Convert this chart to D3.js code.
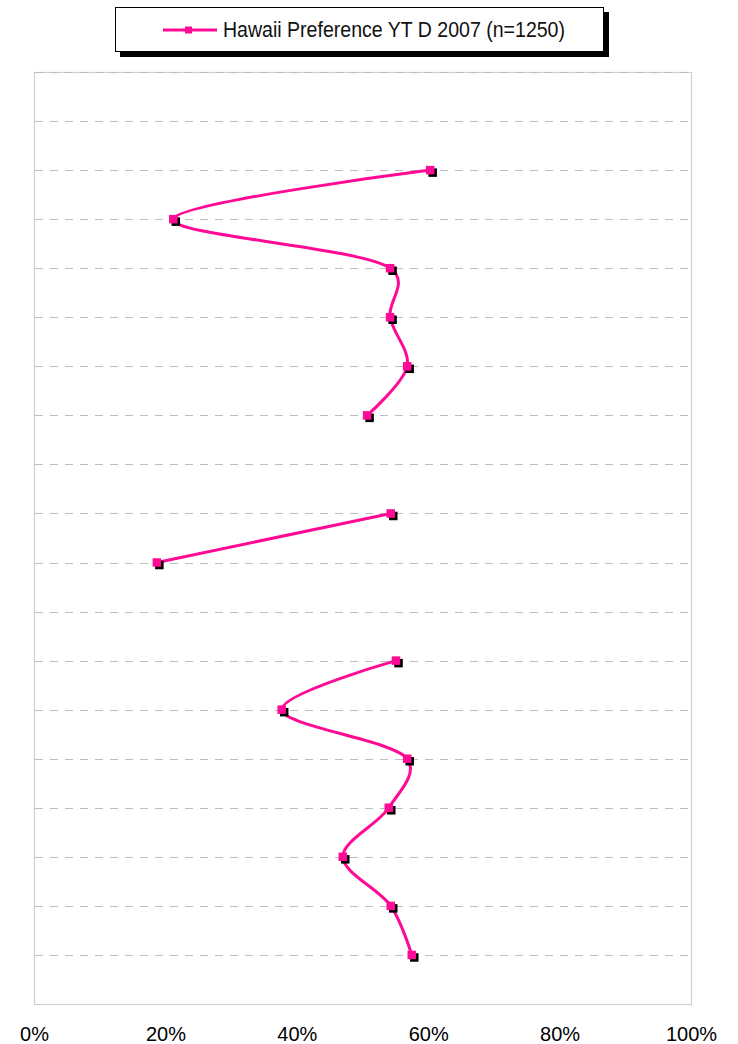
<!DOCTYPE html>
<html>
<head>
<meta charset="utf-8">
<script src="https://cdn.jsdelivr.net/npm/d3@7"></script>
<style>
  html, body { margin: 0; padding: 0; background: #fff; }
  svg { display: block; font-family: Arial, "Liberation Sans", sans-serif; }
</style>
</head>
<body>
<svg id="chart" width="738" height="1044"></svg>
<script>
// Row positions down the chart (1 = top row); rows 1, 8 and 11 hold no value
const rows = [1, 2, 3, 4, 5, 6, 7, 8, 9, 10, 11, 12, 13, 14, 15, 16, 17, 18];
const preference = [null, 60.3, 21.2, 54.2, 54.2, 56.8, 50.7, null, 54.3, 18.7, null, 55.1, 37.7, 56.8, 54.0, 47.0, 54.3, 57.5];
const xTicks = [0, 20, 40, 60, 80, 100];
const seriesName = "Hawaii Preference YT D 2007 (n=1250)";

const pink = "#ff0a94";
const svg = d3.select("#chart");

const plot = { left: 34, right: 691, top: 72, bottom: 1004 };

const x = d3.scaleLinear().domain([0, 100]).range([plot.left, plot.right]);
const y = d3.scaleLinear().domain([0, 19]).range([plot.top, plot.bottom]);

// Plot frame
svg.append("rect")
  .attr("x", plot.left + 0.5).attr("y", plot.top + 0.5)
  .attr("width", plot.right - plot.left).attr("height", plot.bottom - plot.top)
  .attr("fill", "#fff").attr("stroke", "#cfcfcf").attr("stroke-width", 1.2);

// Dashed horizontal gridlines
svg.append("g")
  .selectAll("line")
  .data(d3.range(0, 19))
  .join("line")
  .attr("x1", plot.left + 1).attr("x2", plot.right)
  .attr("y1", d => Math.round(y(d)) + 0.5).attr("y2", d => Math.round(y(d)) + 0.5)
  .attr("stroke", "#bdbdbd").attr("stroke-width", 1.2)
  .attr("stroke-dasharray", "8,7");

// Bottom percentage axis labels
const xAxis = d3.axisBottom(x).tickValues(xTicks).tickFormat(d => d + "%").tickSize(0).tickPadding(0);
const gx = svg.append("g").attr("transform", `translate(0, ${plot.bottom + 23})`).call(xAxis);
gx.select(".domain").remove();
gx.selectAll("text")
  .attr("font-size", 20).attr("fill", "#000")
  .attr("font-family", "Arial, 'Liberation Sans', sans-serif");

// Smoothed series line with breaks at empty rows
const pts = rows.map((r, i) => ({ row: r, v: preference[i] }));
const line = d3.line()
  .defined(d => d.v !== null)
  .x(d => x(d.v)).y(d => y(d.row))
  .curve(d3.curveCatmullRom.alpha(0.25));

svg.append("path")
  .datum(pts)
  .attr("d", line)
  .attr("fill", "none")
  .attr("stroke", pink).attr("stroke-width", 3)
  .attr("stroke-linejoin", "round");

// Square markers with a dark drop shadow
const marks = pts.filter(d => d.v !== null);
const ms = 8.5;
svg.append("g").selectAll("rect")
  .data(marks).join("rect")
  .attr("x", d => x(d.v) - ms / 2 + 2.5).attr("y", d => y(d.row) - ms / 2 + 2.5)
  .attr("width", ms).attr("height", ms).attr("fill", "#000");
svg.append("g").selectAll("rect")
  .data(marks).join("rect")
  .attr("x", d => x(d.v) - ms / 2).attr("y", d => y(d.row) - ms / 2)
  .attr("width", ms).attr("height", ms).attr("fill", pink);

// Legend box with shadow
const lg = svg.append("g");
lg.append("rect").attr("x", 120).attr("y", 12).attr("width", 489).attr("height", 45).attr("fill", "#000");
lg.append("rect").attr("x", 115.5).attr("y", 7.5).attr("width", 488).attr("height", 44)
  .attr("fill", "#fff").attr("stroke", "#000").attr("stroke-width", 1);
lg.append("line").attr("x1", 163).attr("x2", 217).attr("y1", 30).attr("y2", 30)
  .attr("stroke", pink).attr("stroke-width", 3);
lg.append("rect").attr("x", 185).attr("y", 26.5).attr("width", 7).attr("height", 7).attr("fill", pink);
lg.append("text")
  .attr("x", 223).attr("y", 37)
  .attr("font-size", 22)
  .attr("textLength", 342).attr("lengthAdjust", "spacingAndGlyphs")
  .attr("fill", "#111")
  .text(seriesName);
</script>
</body>
</html>
